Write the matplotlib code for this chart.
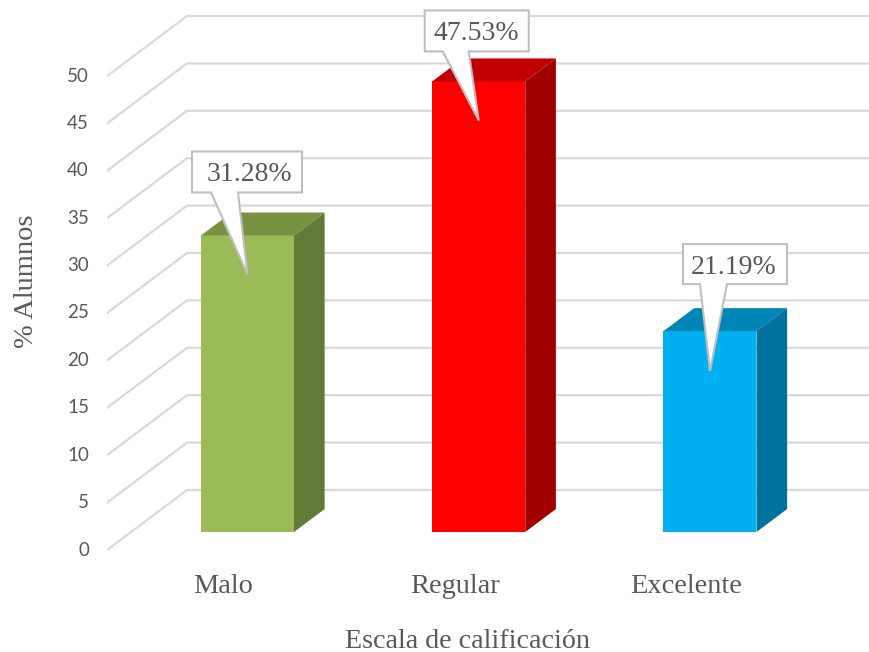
import matplotlib
matplotlib.use("Agg")
import matplotlib.pyplot as plt
from matplotlib.patches import Polygon
from matplotlib.transforms import ScaledTranslation

categories = ["Malo", "Regular", "Excelente"]
values = [31.28, 47.53, 21.19]
value_labels = ["31.28%", "47.53%", "21.19%"]
y_ticks = [0, 5, 10, 15, 20, 25, 30, 35, 40, 45, 50]
front_colors = ["#9BBB59", "#FF0000", "#00B0F0"]
top_colors = ["#7A9142", "#C00000", "#0085B6"]
side_colors = ["#647A37", "#A00000", "#00729C"]
x_label = "Escala de calificación"
y_label = "% Alumnos"

W, H = 870, 652
AX_L, AX_B = 107, 550           # axes corner in pixels
PX_CAT, PX_VAL = 231.25, 9.48   # pixels per category / per value unit
CAT0_PX = 223.5
DEPTH_X, DEPTH_Y = 80 / PX_CAT, 60 / PX_VAL   # full wall depth in data units
BAR_D0, BAR_D1 = 0.30, 0.683    # bar front / back depth fraction
BAR_W = 93 / PX_CAT

# callout layout in pixels relative to the bar's front top centre:
# box left, box right, box bottom (up), box top (up), pointer base left, pointer base right, tip drop, text shift
callouts = [
    (-55.5, 54.5, 43, 84, -36.5, -9.5, 39, 2.5),
    (-54, 50, 30, 71, -36, -10, 39, -0.5),
    (-27, 77, 47, 87, -10, 17, 40, -1),
]

fig = plt.figure(figsize=(W / 100, H / 100), dpi=100, facecolor="white")
ax = fig.add_axes([AX_L / W, (H - AX_B) / H, (W - AX_L) / W, AX_B / H])
ax.set_xlim((AX_L - CAT0_PX) / PX_CAT, (W - CAT0_PX) / PX_CAT)
ax.set_ylim(0, AX_B / PX_VAL)
ax.set_facecolor("none")
for s in ax.spines.values():
    s.set_visible(False)

# gridlines: side wall then back wall
x_left = ax.get_xlim()[0]
x_right = ax.get_xlim()[1]
for v in y_ticks:
    ax.plot([x_left, x_left + DEPTH_X, x_right],
            [v, v + DEPTH_Y, v + DEPTH_Y],
            color="#D9D9D9", lw=1.6, zorder=1, solid_joinstyle="miter")

# 3D bars
for i, val in enumerate(values):
    dx0, dy0 = BAR_D0 * DEPTH_X, BAR_D0 * DEPTH_Y
    dx1, dy1 = BAR_D1 * DEPTH_X, BAR_D1 * DEPTH_Y
    xl = i + dx0 - BAR_W / 2
    xr = i + dx0 + BAR_W / 2
    ddx, ddy = dx1 - dx0, dy1 - dy0
    ax.bar(i + dx0, val, BAR_W, bottom=dy0, color=front_colors[i], zorder=3, lw=0)
    top = val + dy0
    ax.add_patch(Polygon([(xl, top), (xr, top), (xr + ddx, top + ddy), (xl + ddx, top + ddy)],
                         closed=True, fc=top_colors[i], ec="none", zorder=3))
    ax.add_patch(Polygon([(xr, dy0), (xr + ddx, dy0 + ddy), (xr + ddx, top + ddy), (xr, top)],
                         closed=True, fc=side_colors[i], ec="none", zorder=3))

    # callout
    bl, br, bb, bt, pl, pr, tip, shift = callouts[i]
    cx = i + dx0
    X = lambda p: cx + p / PX_CAT
    Y = lambda p: top + p / PX_VAL
    pts = [(X(bl), Y(bt)), (X(br), Y(bt)), (X(br), Y(bb)), (X(pr), Y(bb)),
           (X(0), Y(-tip)), (X(pl), Y(bb)), (X(bl), Y(bb))]
    ax.add_patch(Polygon(pts, closed=True, fc="white", ec="#BFBFBF", lw=1.5,
                         joinstyle="miter", zorder=4))
    ax.text(X((bl + br) / 2 + shift), Y((bb + bt) / 2), value_labels[i], ha="center", va="center_baseline",
            family="Liberation Serif", fontsize=20, color="#595959", zorder=5)

# axes ticks and labels
ax.set_xticks(range(len(categories)), categories)
ax.set_yticks(y_ticks, [str(t) for t in y_ticks])
ax.tick_params(axis="both", length=0)
ax.tick_params(axis="x", pad=17, labelsize=20.4, labelcolor="#595959")
ax.tick_params(axis="y", pad=13, labelsize=13.5, labelcolor="#595959")
for lab in ax.get_xticklabels():
    lab.set_family("Liberation Serif")
for lab in ax.get_yticklabels():
    lab.set_family("Lato")
    lab.set_transform(lab.get_transform() + ScaledTranslation(0, 1.5 / 100, fig.dpi_scale_trans))

fig.text(468 / W, 1 - 641 / H, x_label, ha="center", va="center",
         family="Liberation Serif", fontsize=20.2, color="#595959")
fig.text(27 / W, 1 - 281 / H, y_label, ha="center", va="center", rotation=90,
         family="Liberation Serif", fontsize=20.5, color="#595959")

fig.savefig("out.png", dpi=100, facecolor="white")
